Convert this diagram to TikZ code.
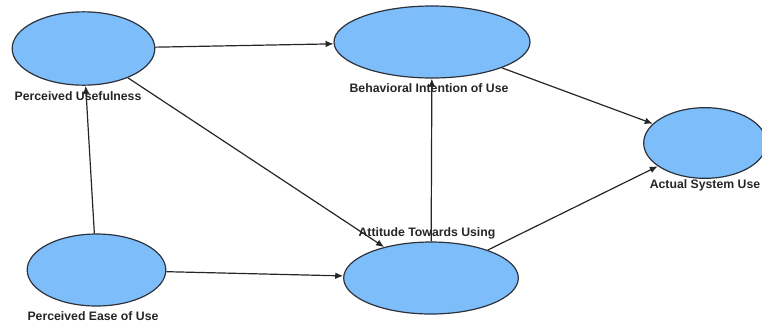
\documentclass[tikz,border=0pt]{standalone}
\usepackage{fontspec}
\setmainfont{Liberation Sans}
\usepackage{tikz}
\usetikzlibrary{arrows.meta,positioning,shapes.geometric}
\definecolor{constructblue}{RGB}{125,190,250}
\definecolor{edgegray}{RGB}{45,50,60}

\begin{document}
\begin{tikzpicture}[x=0.75pt,y=-0.75pt,>=Latex,
  construct/.style={ellipse,draw=edgegray,line width=0.9pt,fill=constructblue,inner sep=0pt},
  lbl/.style={font=\bfseries\fontsize{9.2}{10}\selectfont,text=black!85,inner sep=0pt},
  link/.style={-{Latex[length=6pt,width=5pt]},line width=0.9pt,draw=black!85}]
\useasboundingbox (0,0) rectangle (762,326);
\node[construct,minimum width=107pt,minimum height=55pt] (pu) at (83.5,48.5) {};
\node[construct,minimum width=147pt,minimum height=54pt] (bi) at (432,42) {};
\node[construct,minimum width=92pt,minimum height=53pt] (asu) at (705,143) {};
\node[construct,minimum width=104pt,minimum height=54pt] (peou) at (96.5,270) {};
\node[construct,minimum width=131pt,minimum height=54pt] (atu) at (431,278) {};
\node[lbl] (pu-l) at (78,96) {Perceived Usefulness};
\node[lbl] (bi-l) at (429,88) {Behavioral Intention of Use};
\node[lbl] (asu-l) at (705,185) {Actual System Use};
\node[lbl] (peou-l) at (93,316) {Perceived Ease of Use};
\node[lbl] (atu-l) at (427,233) {Attitude Towards Using};
\draw[link] (pu)--(bi);
\draw[link] (pu)--(atu);
\draw[link] (peou)--(pu);
\draw[link] (peou)--(atu);
\draw[link] (atu)--(bi);
\draw[link] (bi)--(asu);
\draw[link] (atu)--(asu);
\end{tikzpicture}
\end{document}
